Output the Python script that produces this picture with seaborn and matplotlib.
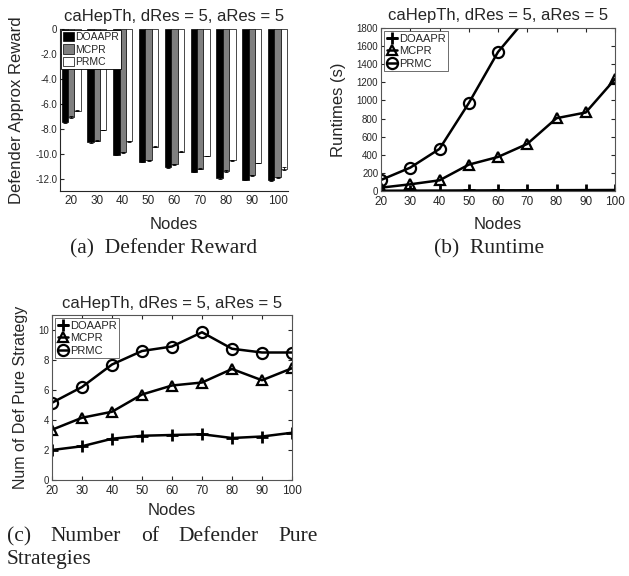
import numpy as np
import pandas as pd
import matplotlib
matplotlib.use('Agg')
import matplotlib.pyplot as plt
import seaborn as sns

# ---------------- data ----------------
nodes = [20, 30, 40, 50, 60, 70, 80, 90, 100]
methods = ['DOAAPR', 'MCPR', 'PRMC']

reward_doaapr = [-7.5, -9.1, -10.1, -10.65, -11.1, -11.45, -11.95, -12.1, -12.15]
reward_mcpr = [-7.05, -8.95, -9.9, -10.55, -10.85, -11.2, -11.4, -11.75, -11.9]
reward_prmc = [-6.55, -8.1, -9.0, -9.45, -9.85, -10.2, -10.55, -10.75, -11.2]
reward_err_doaapr = [0.05, 0.08, 0.05, 0.04, 0.04, 0.04, 0.05, 0.05, 0.05]
reward_err_mcpr = [0.1, 0.06, 0.05, 0.04, 0.05, 0.04, 0.05, 0.04, 0.05]
reward_err_prmc = [0.03, 0.03, 0.03, 0.03, 0.03, 0.03, 0.03, 0.03, 0.15]

runtime_doaapr = [3, 4, 5, 6, 7, 8, 9, 10, 11]
runtime_mcpr = [37, 74, 118, 291, 376, 520, 804, 867, 1236]
runtime_prmc = [122, 258, 465, 970, 1535, 1920, np.nan, np.nan, np.nan]

strat_doaapr = [2.0, 2.25, 2.75, 2.95, 3.0, 3.05, 2.8, 2.9, 3.15]
strat_mcpr = [3.35, 4.15, 4.55, 5.7, 6.3, 6.5, 7.4, 6.65, 7.45]
strat_prmc = [5.15, 6.2, 7.7, 8.6, 8.9, 9.85, 8.75, 8.5, 8.5]

reward_yticks = [0, -2, -4, -6, -8, -10, -12]
reward_yticklabels = ['0', '-2.0', '-4.0', '-6.0', '-8.0', '-10.0', '-12.0']
runtime_yticks = [0, 200, 400, 600, 800, 1000, 1200, 1400, 1600, 1800]
strat_yticks = [0, 2, 4, 6, 8, 10]

title = 'caHepTh, dRes = 5, aRes = 5'
caption_a = '(a)  Defender Reward'
caption_b = '(b)  Runtime'
caption_c_line1 = ['(c)', 'Number', 'of', 'Defender', 'Pure']
caption_c_line2 = 'Strategies'

# ---------------- style ----------------
sns.set_style('ticks')
plt.rcParams['font.family'] = ['Liberation Sans', 'DejaVu Sans']
plt.rcParams['axes.linewidth'] = 0.8
plt.rcParams['xtick.direction'] = 'in'
plt.rcParams['ytick.direction'] = 'in'

fig = plt.figure(figsize=(6.29, 5.76), dpi=100)
W, H = 629, 576


def axes_px(l, t, r, b):
    return fig.add_axes([l / W, 1 - b / H, (r - l) / W, (b - t) / H])


# ---------------- (a) Defender Reward ----------------
ax1 = axes_px(60, 29, 288, 191)
df_r = pd.DataFrame({
    'Nodes': [str(n) for n in nodes] * 3,
    'Method': np.repeat(methods, len(nodes)),
    'Reward': reward_doaapr + reward_mcpr + reward_prmc,
})
sns.barplot(data=df_r, x='Nodes', y='Reward', hue='Method', hue_order=methods,
            order=[str(n) for n in nodes], palette=['black', '#7f7f7f', 'white'],
            edgecolor='black', linewidth=0.5, width=0.74, errorbar=None, ax=ax1)
errs = [reward_err_doaapr, reward_err_mcpr, reward_err_prmc]
for cont, err in zip(ax1.containers, errs):
    for bar, e in zip(cont, err):
        ax1.errorbar(bar.get_x() + bar.get_width() / 2, bar.get_y() + bar.get_height(),
                     yerr=e, color='black', lw=0.6, capsize=1.5, capthick=0.6)
ax1.set_xlim(-0.43, 8.4)
ax1.set_ylim(-13, 0)
ax1.set_yticks(reward_yticks)
ax1.set_yticklabels(reward_yticklabels)
sns.despine(ax=ax1)
ax1.tick_params(axis='y', labelsize=7, length=3, pad=2)
ax1.tick_params(axis='x', labelsize=8.5, length=0, pad=3)
ax1.set_xlabel('Nodes', fontsize=12)
ax1.set_ylabel('Defender Approx Reward', fontsize=12)
ax1.yaxis.set_label_coords(-0.158, 0.5)
ax1.xaxis.set_label_coords(0.5, -0.16)
ax1.set_title(title, fontsize=12, pad=6)
leg = ax1.legend(loc='upper left', fontsize=7.5, frameon=True, fancybox=False,
                 edgecolor='black', framealpha=1, borderpad=0.2, handlelength=1.0,
                 handleheight=1.0, handletextpad=0.2, labelspacing=0.2,
                 borderaxespad=0.1, title=None)
leg.get_frame().set_linewidth(0.6)


def draw_lines(ax, series):
    specs = {'DOAAPR': ('+', 9, 2.0), 'MCPR': ('^', 7.5, 1.6), 'PRMC': ('o', 8, 1.6)}
    for name, vals in zip(methods, series):
        m, ms, mew = specs[name]
        sns.lineplot(x=nodes, y=vals, ax=ax, color='black', linewidth=1.8,
                     marker=m, markersize=ms, markerfacecolor='none',
                     markeredgecolor='black', markeredgewidth=mew, label=name)


def finish_line_axes(ax):
    for s in ax.spines.values():
        s.set_visible(True)
        s.set_color('#555555')
    ax.tick_params(axis='both', which='both', top=True, right=True, length=3)
    ax.tick_params(axis='y', labelsize=7, pad=2)
    ax.tick_params(axis='x', labelsize=8.5, pad=3.8)
    ax.set_xlim(20, 100)
    ax.set_xticks(nodes)
    lg = ax.legend(loc='upper left', fontsize=8, frameon=True, fancybox=False,
                   edgecolor='#555555', framealpha=1, borderpad=0.2, handlelength=0.9,
                   handletextpad=0.2, labelspacing=0.25, borderaxespad=0.3)
    lg.get_frame().set_linewidth(0.6)


# ---------------- (b) Runtime ----------------
ax2 = axes_px(381, 28, 615, 191)
draw_lines(ax2, [runtime_doaapr, runtime_mcpr, runtime_prmc])
ax2.set_ylim(0, 1800)
ax2.set_yticks(runtime_yticks)
finish_line_axes(ax2)
ax2.set_xlabel('Nodes', fontsize=12)
ax2.set_ylabel('Runtimes (s)', fontsize=12)
ax2.yaxis.set_label_coords(-0.150, 0.5)
ax2.xaxis.set_label_coords(0.5, -0.16)
ax2.set_title(title, fontsize=12, pad=6)

# ---------------- (c) Pure strategies ----------------
ax3 = axes_px(52, 315, 292, 480)
draw_lines(ax3, [strat_doaapr, strat_mcpr, strat_prmc])
ax3.set_ylim(0, 11)
ax3.set_yticks(strat_yticks)
finish_line_axes(ax3)
ax3.set_xlabel('Nodes', fontsize=12)
ax3.set_ylabel('Num of Def Pure Strategy', fontsize=11.5)
ax3.yaxis.set_label_coords(-0.1, 0.5)
ax3.xaxis.set_label_coords(0.5, -0.14)
ax3.set_title(title, fontsize=12, pad=5)

# ---------------- captions ----------------
cap = dict(family=['Liberation Serif', 'DejaVu Serif'], fontsize=15.5, color='#222222')
fig.text(164 / W, 1 - 249 / H, caption_a, ha='center', va='center', **cap)
fig.text(489 / W, 1 - 249 / H, caption_b, ha='center', va='center', **cap)

# justified first line of caption (c) between x=7 and x=318 px
left_px, right_px = 7, 318
renderer = fig.canvas.get_renderer()
tmp = [fig.text(0, 0, w, **cap) for w in caption_c_line1]
widths = [t.get_window_extent(renderer).width for t in tmp]
for t in tmp:
    t.remove()
gap = (right_px - left_px - sum(widths)) / (len(widths) - 1)
x = left_px
for w, wd in zip(caption_c_line1, widths):
    fig.text(x / W, 1 - 541 / H, w, ha='left', va='baseline', **cap)
    x += wd + gap
fig.text(left_px / W, 1 - 564 / H, caption_c_line2, ha='left', va='baseline', **cap)

fig.savefig('out.png', dpi=100)
